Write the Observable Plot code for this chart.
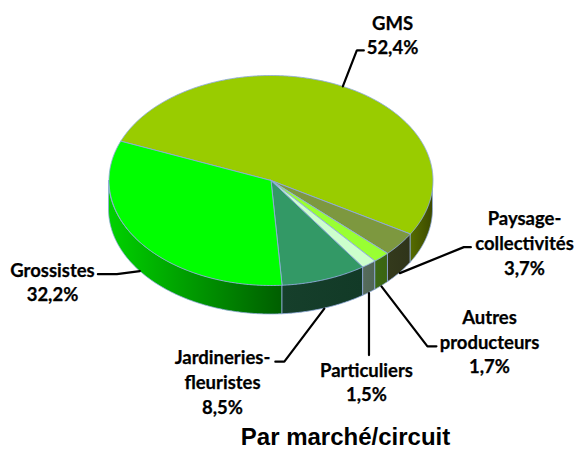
<!DOCTYPE html>
<html lang="fr">
<head>
<meta charset="utf-8">
<style>html,body{margin:0;padding:0;background:#fff}svg{display:block}</style>
<script src="https://cdn.jsdelivr.net/npm/d3@7"></script>
<script src="https://cdn.jsdelivr.net/npm/@observablehq/plot@0.6"></script>
</head>
<body>
<script>
// Values, clockwise from the start angle
const names = ["GMS", "Paysage-\ncollectivités", "Autres\nproducteurs", "Particuliers", "Jardineries-\nfleuristes", "Grossistes"];
const shares = [52.4, 3.7, 1.7, 1.5, 8.5, 32.2];
const topColors = ["#99CC00", "#7D983F", "#99FF33", "#CCFFCC", "#339966", "#00FF00"];
const sideStops = [["#566C00", "#3C4A00"], ["#343A1C", "#2F341A"], ["#3C6A14", "#3A6412"], ["#566C5C", "#506656"], ["#163F2B", "#123A27"], ["#00D200", "#005E00"]];
const title = "Par marché/circuit";

// Pie layout (pixels, through identity x/y scales)
const cx = 270.5, cy = 180, rx = 162, ry = 105, depth = 29, startAngle = 292;
const rim = "#8FAADC";
// Leader elbows relative to each slice's outer rim point, and label centre
const leaderOffsets = [
  [[14, -36], [21, -36]],
  [[64, -26], [71, -26]],
  [[46, 60], [55, 60]],
  [[0, 62]],
  [[-40, 53], [-49, 53]],
  [[-23, 3], [-42, 3]]
];
const labelAnchors = [[392, 33.5], [524, 241.5], [489, 340], [366, 380.5], [222, 380.5], [52, 280.5]];

const rad = a => a * Math.PI / 180;
const px = a => cx + rx * Math.sin(rad(a));
const py = a => cy - ry * Math.cos(rad(a));

let acc = startAngle;
const slices = shares.map((v, i) => {
  const a0 = acc, a1 = acc + v * 3.6;
  acc = a1;
  return {i, name: names[i], value: v, a0, a1, mid: (a0 + a1) / 2, top: topColors[i], grad: `url(#side${i})`};
});

const arcSteps = (a0, a1) => {
  const n = Math.max(2, Math.ceil((a1 - a0) * 2));
  return d3.range(n + 1).map(k => a0 + (a1 - a0) * k / n);
};

// Top faces: centre + arc
const topFaces = slices.flatMap(s => [
  {i: s.i, fill: s.top, x: cx, y: cy},
  ...arcSteps(s.a0, s.a1).map(a => ({i: s.i, fill: s.top, x: px(a), y: py(a)})),
  {i: s.i, fill: s.top, x: cx, y: cy}
]);

// Side walls: part of each slice on the front half (angles 90..270, also modulo 360)
const sideWalls = slices.flatMap(s => {
  const out = [];
  for (const shift of [0, -360]) {
    const a0 = Math.max(s.a0 + shift, 90), a1 = Math.min(s.a1 + shift, 270);
    if (a1 > a0) {
      out.push(...arcSteps(a0, a1).map(a => ({i: s.i, fill: s.grad, x: px(a), y1: py(a), y2: py(a) + depth})));
    }
  }
  return out;
});

// Leaders start on the visible outer edge at each slice's mid-angle
const leaders = slices.flatMap(s => {
  const m = ((s.mid % 360) + 360) % 360;
  const x0 = px(m), y0 = py(m) + (m > 90 && m < 270 ? depth : 0);
  return [[0, 0], ...leaderOffsets[s.i]].map(([dx, dy]) => ({i: s.i, x: x0 + dx, y: y0 + dy}));
});

const labels = slices.map(s => ({
  x: labelAnchors[s.i][0],
  y: labelAnchors[s.i][1],
  text: `${s.name}\n${s.value.toFixed(1).replace(".", ",")}%`
}));

const gradients = () => {
  const defs = d3.create("svg:defs");
  sideStops.forEach(([c0, c1], i) => {
    const g = defs.append("linearGradient").attr("id", `side${i}`);
    g.append("stop").attr("offset", "0%").attr("stop-color", c0);
    g.append("stop").attr("offset", "100%").attr("stop-color", c1);
  });
  return defs.node();
};

const chart = Plot.plot({
  width: 575, height: 450,
  margin: 0,
  style: {background: "#fff"},
  x: {domain: [0, 575], range: [0, 575], axis: null},
  y: {domain: [0, 450], range: [0, 450], axis: null},
  marks: [
    gradients,
    Plot.areaY(sideWalls, {x: "x", y1: "y1", y2: "y2", z: "i", fill: {value: "fill", scale: null}, stroke: rim, strokeWidth: 0.8}),
    Plot.line(topFaces, {x: "x", y: "y", z: "i", fill: {value: "fill", scale: null}, stroke: rim, strokeWidth: 0.9, strokeLinejoin: "round"}),
    Plot.line(leaders, {x: "x", y: "y", z: "i", stroke: "#000", strokeWidth: 2.2, strokeLinejoin: "miter"}),
    Plot.text(labels, {x: "x", y: "y", text: "text", lineHeight: 1.35, fontFamily: "Lato", fontWeight: 700, fontSize: 18.5, fill: "#000", stroke: "#000", strokeWidth: 0.25}),
    Plot.text([title], {x: () => 345, y: () => 437, text: d => d, fontFamily: "Liberation Sans", fontWeight: 700, fontSize: 24, fill: "#000"})
  ]
});
document.body.appendChild(chart);
</script>
</body>
</html>
